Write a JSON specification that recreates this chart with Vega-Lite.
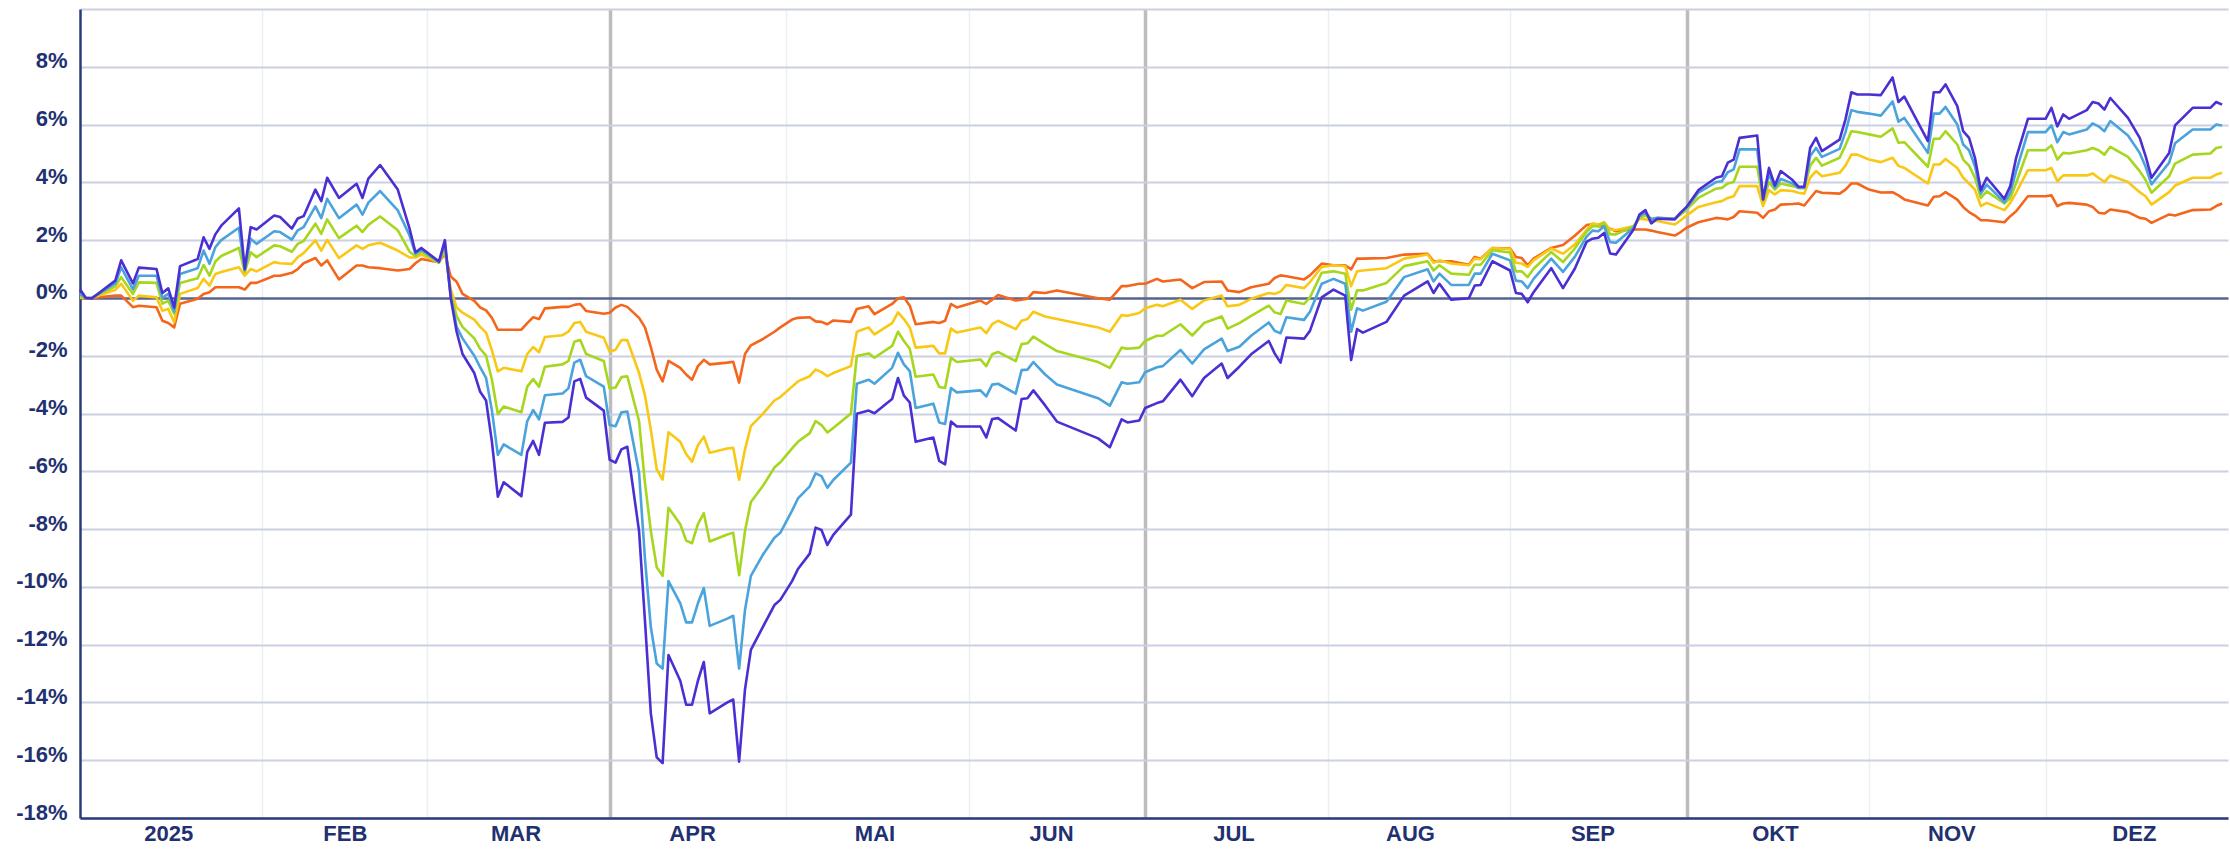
{
  "$schema": "https://vega.github.io/schema/vega-lite/v6.json",
  "width": 2148,
  "height": 809,
  "autosize": "none",
  "padding": {"left": 80, "top": 9, "right": 2, "bottom": 32},
  "background": "white",
  "config": {"view": {"stroke": null}},
  "data": {"values": [
    {"d":"2025-01-01","A":0.3,"B":0.15,"C":0.05,"D":0,"E":0},
    {"d":"2025-01-02","A":0,"B":0,"C":0,"D":0,"E":0},
    {"d":"2025-01-03","A":-0.02,"B":0,"C":0,"D":0,"E":0},
    {"d":"2025-01-07","A":0.6,"B":0.5,"C":0.4,"D":0.28,"E":0.08},
    {"d":"2025-01-08","A":1.3,"B":1.06,"C":0.72,"D":0.49,"E":0.08},
    {"d":"2025-01-10","A":0.5,"B":0.3,"C":0.14,"D":-0.1,"E":-0.32},
    {"d":"2025-01-11","A":1.05,"B":0.77,"C":0.54,"D":0.08,"E":-0.27},
    {"d":"2025-01-14","A":1.0,"B":0.77,"C":0.52,"D":0.02,"E":-0.32},
    {"d":"2025-01-15","A":0.17,"B":0.0,"C":-0.2,"D":-0.44,"E":-0.79},
    {"d":"2025-01-16","A":0.33,"B":0.14,"C":-0.1,"D":-0.38,"E":-0.87},
    {"d":"2025-01-17","A":-0.33,"B":-0.47,"C":-0.55,"D":-0.84,"E":-1.02},
    {"d":"2025-01-18","A":1.1,"B":0.83,"C":0.52,"D":0.14,"E":-0.2},
    {"d":"2025-01-21","A":1.35,"B":1.03,"C":0.68,"D":0.34,"E":-0.03},
    {"d":"2025-01-22","A":2.1,"B":1.64,"C":1.14,"D":0.66,"E":0.14},
    {"d":"2025-01-23","A":1.7,"B":1.18,"C":0.77,"D":0.43,"E":0.2},
    {"d":"2025-01-24","A":2.2,"B":1.76,"C":1.26,"D":0.83,"E":0.37},
    {"d":"2025-01-25","A":2.5,"B":2.0,"C":1.45,"D":0.9,"E":0.37},
    {"d":"2025-01-28","A":3.1,"B":2.43,"C":1.73,"D":1.06,"E":0.37},
    {"d":"2025-01-29","A":1.0,"B":0.95,"C":0.89,"D":0.77,"E":0.29},
    {"d":"2025-01-30","A":2.45,"B":2.05,"C":1.58,"D":1.0,"E":0.52},
    {"d":"2025-01-31","A":2.37,"B":1.87,"C":1.41,"D":0.92,"E":0.52},
    {"d":"2025-02-03","A":2.85,"B":2.31,"C":1.82,"D":1.24,"E":0.77},
    {"d":"2025-02-04","A":2.8,"B":2.28,"C":1.79,"D":1.2,"E":0.77},
    {"d":"2025-02-06","A":2.4,"B":2.02,"C":1.6,"D":1.18,"E":0.87},
    {"d":"2025-02-07","A":2.75,"B":2.34,"C":1.87,"D":1.41,"E":1.0},
    {"d":"2025-02-08","A":2.83,"B":2.45,"C":1.97,"D":1.55,"E":1.2},
    {"d":"2025-02-10","A":3.75,"B":3.17,"C":2.57,"D":1.99,"E":1.38},
    {"d":"2025-02-11","A":3.35,"B":2.76,"C":2.22,"D":1.64,"E":1.12},
    {"d":"2025-02-12","A":4.16,"B":3.43,"C":2.72,"D":2.01,"E":1.3},
    {"d":"2025-02-14","A":3.46,"B":2.76,"C":2.07,"D":1.38,"E":0.64},
    {"d":"2025-02-17","A":3.95,"B":3.23,"C":2.5,"D":1.82,"E":1.12},
    {"d":"2025-02-18","A":3.46,"B":2.88,"C":2.28,"D":1.7,"E":1.12},
    {"d":"2025-02-19","A":4.13,"B":3.3,"C":2.53,"D":1.82,"E":1.06},
    {"d":"2025-02-21","A":4.6,"B":3.7,"C":2.82,"D":1.91,"E":1.03},
    {"d":"2025-02-24","A":3.75,"B":3.03,"C":2.34,"D":1.64,"E":0.95},
    {"d":"2025-02-26","A":2.4,"B":2.16,"C":1.6,"D":1.4,"E":1.0},
    {"d":"2025-02-27","A":1.58,"B":1.53,"C":1.45,"D":1.4,"E":1.2},
    {"d":"2025-02-28","A":1.73,"B":1.68,"C":1.6,"D":1.5,"E":1.35},
    {"d":"2025-03-03","A":1.26,"B":1.24,"C":1.22,"D":1.22,"E":1.24},
    {"d":"2025-03-04","A":2.0,"B":1.87,"C":1.75,"D":1.65,"E":1.53},
    {"d":"2025-03-05","A":0.0,"B":0.05,"C":0.15,"D":0.3,"E":0.74},
    {"d":"2025-03-06","A":-1.17,"B":-1.0,"C":-0.63,"D":-0.33,"E":0.56},
    {"d":"2025-03-07","A":-1.94,"B":-1.4,"C":-1.0,"D":-0.51,"E":0.14},
    {"d":"2025-03-09","A":-2.6,"B":-2.0,"C":-1.4,"D":-0.75,"E":-0.1},
    {"d":"2025-03-10","A":-3.25,"B":-2.4,"C":-1.76,"D":-1.0,"E":-0.33},
    {"d":"2025-03-11","A":-3.55,"B":-2.77,"C":-2.0,"D":-1.2,"E":-0.43},
    {"d":"2025-03-12","A":-4.98,"B":-3.9,"C":-2.83,"D":-1.82,"E":-0.69},
    {"d":"2025-03-13","A":-6.88,"B":-5.43,"C":-4.02,"D":-2.54,"E":-1.1},
    {"d":"2025-03-14","A":-6.38,"B":-5.07,"C":-3.76,"D":-2.42,"E":-1.1},
    {"d":"2025-03-17","A":-6.86,"B":-5.43,"C":-3.96,"D":-2.54,"E":-1.1},
    {"d":"2025-03-18","A":-5.33,"B":-4.26,"C":-3.07,"D":-1.94,"E":-0.87},
    {"d":"2025-03-19","A":-4.95,"B":-3.88,"C":-2.81,"D":-1.7,"E":-0.67},
    {"d":"2025-03-20","A":-5.43,"B":-4.2,"C":-3.07,"D":-1.88,"E":-0.73},
    {"d":"2025-03-21","A":-4.32,"B":-3.37,"C":-2.38,"D":-1.35,"E":-0.36},
    {"d":"2025-03-24","A":-4.29,"B":-3.31,"C":-2.3,"D":-1.29,"E":-0.31},
    {"d":"2025-03-25","A":-4.14,"B":-3.13,"C":-2.18,"D":-1.17,"E":-0.31},
    {"d":"2025-03-26","A":-2.89,"B":-2.24,"C":-1.52,"D":-0.87,"E":-0.24},
    {"d":"2025-03-27","A":-2.8,"B":-2.14,"C":-1.46,"D":-0.83,"E":-0.21},
    {"d":"2025-03-28","A":-3.45,"B":-2.71,"C":-1.94,"D":-1.17,"E":-0.45},
    {"d":"2025-03-31","A":-3.9,"B":-3.07,"C":-2.18,"D":-1.38,"E":-0.55},
    {"d":"2025-04-01","A":-5.6,"B":-4.4,"C":-3.13,"D":-1.86,"E":-0.51},
    {"d":"2025-04-02","A":-5.7,"B":-4.44,"C":-3.1,"D":-1.79,"E":-0.33},
    {"d":"2025-04-03","A":-5.24,"B":-3.96,"C":-2.74,"D":-1.46,"E":-0.24},
    {"d":"2025-04-04","A":-5.15,"B":-3.93,"C":-2.71,"D":-1.46,"E":-0.31},
    {"d":"2025-04-06","A":-8.07,"B":-6.05,"C":-4.26,"D":-2.6,"E":-0.69},
    {"d":"2025-04-07","A":-11.17,"B":-9.02,"C":-6.4,"D":-3.37,"E":-1.02},
    {"d":"2025-04-08","A":-14.38,"B":-11.4,"C":-8.07,"D":-4.56,"E":-1.7},
    {"d":"2025-04-09","A":-15.9,"B":-12.65,"C":-9.32,"D":-5.93,"E":-2.48},
    {"d":"2025-04-10","A":-16.1,"B":-12.83,"C":-9.62,"D":-6.29,"E":-2.89},
    {"d":"2025-04-11","A":-12.36,"B":-9.8,"C":-7.26,"D":-4.65,"E":-2.18},
    {"d":"2025-04-13","A":-13.25,"B":-10.57,"C":-7.83,"D":-4.98,"E":-2.42},
    {"d":"2025-04-14","A":-14.08,"B":-11.23,"C":-8.4,"D":-5.4,"E":-2.65},
    {"d":"2025-04-15","A":-14.08,"B":-11.23,"C":-8.49,"D":-5.67,"E":-2.83},
    {"d":"2025-04-16","A":-13.25,"B":-10.57,"C":-7.83,"D":-5.1,"E":-2.36},
    {"d":"2025-04-17","A":-12.6,"B":-10.04,"C":-7.45,"D":-4.8,"E":-2.14},
    {"d":"2025-04-18","A":-14.38,"B":-11.35,"C":-8.43,"D":-5.36,"E":-2.3},
    {"d":"2025-04-21","A":-14.0,"B":-11.1,"C":-8.19,"D":-5.21,"E":-2.24},
    {"d":"2025-04-22","A":-13.9,"B":-11.0,"C":-8.13,"D":-5.19,"E":-2.21},
    {"d":"2025-04-23","A":-16.05,"B":-12.83,"C":-9.6,"D":-6.29,"E":-2.93},
    {"d":"2025-04-24","A":-13.55,"B":-10.8,"C":-8.07,"D":-5.24,"E":-1.94},
    {"d":"2025-04-25","A":-12.18,"B":-9.62,"C":-7.06,"D":-4.44,"E":-1.64},
    {"d":"2025-04-27","A":-11.4,"B":-8.9,"C":-6.52,"D":-4.02,"E":-1.43},
    {"d":"2025-04-29","A":-10.63,"B":-8.3,"C":-5.87,"D":-3.55,"E":-1.17},
    {"d":"2025-04-30","A":-10.45,"B":-8.13,"C":-5.69,"D":-3.43,"E":-1.02},
    {"d":"2025-05-02","A":-9.8,"B":-7.36,"C":-5.21,"D":-3.07,"E":-0.75},
    {"d":"2025-05-03","A":-9.38,"B":-6.94,"C":-4.98,"D":-2.89,"E":-0.69},
    {"d":"2025-05-05","A":-8.85,"B":-6.52,"C":-4.68,"D":-2.71,"E":-0.67},
    {"d":"2025-05-06","A":-7.95,"B":-6.07,"C":-4.26,"D":-2.48,"E":-0.81},
    {"d":"2025-05-07","A":-8.03,"B":-6.17,"C":-4.4,"D":-2.57,"E":-0.83},
    {"d":"2025-05-08","A":-8.55,"B":-6.57,"C":-4.66,"D":-2.71,"E":-0.91},
    {"d":"2025-05-09","A":-8.2,"B":-6.3,"C":-4.5,"D":-2.6,"E":-0.78},
    {"d":"2025-05-12","A":-7.5,"B":-5.7,"C":-4.0,"D":-2.36,"E":-0.83},
    {"d":"2025-05-13","A":-4.01,"B":-2.97,"C":-2.01,"D":-1.17,"E":-0.38},
    {"d":"2025-05-15","A":-3.9,"B":-2.83,"C":-1.92,"D":-1.02,"E":-0.29},
    {"d":"2025-05-16","A":-3.99,"B":-2.97,"C":-2.07,"D":-1.26,"E":-0.56},
    {"d":"2025-05-19","A":-3.5,"B":-2.42,"C":-1.66,"D":-0.87,"E":-0.21},
    {"d":"2025-05-20","A":-2.77,"B":-1.9,"C":-1.17,"D":-0.5,"E":-0.01},
    {"d":"2025-05-21","A":-3.38,"B":-2.3,"C":-1.49,"D":-0.73,"E":0.02},
    {"d":"2025-05-22","A":-3.62,"B":-2.53,"C":-1.76,"D":-1.02,"E":-0.27},
    {"d":"2025-05-23","A":-4.98,"B":-3.81,"C":-2.73,"D":-1.72,"E":-0.91},
    {"d":"2025-05-26","A":-4.83,"B":-3.66,"C":-2.65,"D":-1.66,"E":-0.83},
    {"d":"2025-05-27","A":-5.64,"B":-4.31,"C":-3.08,"D":-1.92,"E":-0.87},
    {"d":"2025-05-28","A":-5.76,"B":-4.36,"C":-3.12,"D":-1.92,"E":-0.79},
    {"d":"2025-05-29","A":-4.28,"B":-3.12,"C":-2.07,"D":-1.06,"E":-0.21},
    {"d":"2025-05-30","A":-4.45,"B":-3.27,"C":-2.22,"D":-1.2,"E":-0.33},
    {"d":"2025-06-03","A":-4.45,"B":-3.2,"C":-2.13,"D":-1.02,"E":-0.09},
    {"d":"2025-06-04","A":-4.83,"B":-3.41,"C":-2.36,"D":-1.22,"E":-0.21},
    {"d":"2025-06-05","A":-4.19,"B":-3.0,"C":-1.95,"D":-0.91,"E":-0.06},
    {"d":"2025-06-06","A":-4.16,"B":-2.97,"C":-1.87,"D":-0.79,"E":0.1},
    {"d":"2025-06-09","A":-4.59,"B":-3.31,"C":-2.19,"D":-1.08,"E":-0.09},
    {"d":"2025-06-10","A":-3.5,"B":-2.5,"C":-1.6,"D":-0.79,"E":-0.06},
    {"d":"2025-06-11","A":-3.47,"B":-2.48,"C":-1.57,"D":-0.73,"E":-0.03},
    {"d":"2025-06-12","A":-3.2,"B":-2.22,"C":-1.34,"D":-0.48,"E":0.2},
    {"d":"2025-06-14","A":-3.72,"B":-2.65,"C":-1.6,"D":-0.64,"E":0.17},
    {"d":"2025-06-16","A":-4.28,"B":-3.0,"C":-1.84,"D":-0.73,"E":0.26},
    {"d":"2025-06-23","A":-4.86,"B":-3.47,"C":-2.22,"D":-1.02,"E":-0.01},
    {"d":"2025-06-25","A":-5.17,"B":-3.73,"C":-2.42,"D":-1.17,"E":-0.06},
    {"d":"2025-06-27","A":-4.2,"B":-2.92,"C":-1.72,"D":-0.59,"E":0.41},
    {"d":"2025-06-28","A":-4.31,"B":-2.97,"C":-1.76,"D":-0.62,"E":0.41},
    {"d":"2025-06-30","A":-4.24,"B":-2.92,"C":-1.72,"D":-0.52,"E":0.49},
    {"d":"2025-07-01","A":-3.81,"B":-2.57,"C":-1.49,"D":-0.36,"E":0.49},
    {"d":"2025-07-03","A":-3.64,"B":-2.4,"C":-1.31,"D":-0.24,"E":0.66},
    {"d":"2025-07-04","A":-3.58,"B":-2.36,"C":-1.31,"D":-0.29,"E":0.57},
    {"d":"2025-07-07","A":-2.83,"B":-1.8,"C":-0.91,"D":-0.06,"E":0.64},
    {"d":"2025-07-09","A":-3.4,"B":-2.27,"C":-1.3,"D":-0.38,"E":0.34},
    {"d":"2025-07-11","A":-2.77,"B":-1.78,"C":-0.87,"D":-0.09,"E":0.55},
    {"d":"2025-07-14","A":-2.27,"B":-1.41,"C":-0.64,"D":0.08,"E":0.57},
    {"d":"2025-07-15","A":-2.77,"B":-1.84,"C":-1.06,"D":-0.29,"E":0.26},
    {"d":"2025-07-17","A":-2.38,"B":-1.69,"C":-0.87,"D":-0.24,"E":0.2},
    {"d":"2025-07-19","A":-1.95,"B":-1.31,"C":-0.62,"D":-0.03,"E":0.37},
    {"d":"2025-07-22","A":-1.49,"B":-0.85,"C":-0.27,"D":0.17,"E":0.49},
    {"d":"2025-07-23","A":-1.92,"B":-1.14,"C":-0.5,"D":0.14,"E":0.69},
    {"d":"2025-07-24","A":-2.24,"B":-1.22,"C":-0.56,"D":0.22,"E":0.78},
    {"d":"2025-07-25","A":-1.37,"B":-0.67,"C":-0.09,"D":0.45,"E":0.75},
    {"d":"2025-07-28","A":-1.41,"B":-0.76,"C":-0.21,"D":0.34,"E":0.64},
    {"d":"2025-07-29","A":-1.14,"B":-0.48,"C":0.02,"D":0.55,"E":0.78},
    {"d":"2025-07-31","A":0.02,"B":0.49,"C":0.87,"D":1.07,"E":1.19},
    {"d":"2025-08-02","A":0.29,"B":0.66,"C":0.92,"D":1.13,"E":1.13},
    {"d":"2025-08-04","A":0.08,"B":0.49,"C":0.84,"D":1.1,"E":1.13},
    {"d":"2025-08-05","A":-2.15,"B":-1.17,"C":-0.41,"D":0.41,"E":0.99},
    {"d":"2025-08-06","A":-1.08,"B":-0.36,"C":0.26,"D":0.92,"E":1.36},
    {"d":"2025-08-07","A":-1.2,"B":-0.44,"C":0.26,"D":0.95,"E":1.36},
    {"d":"2025-08-11","A":-0.83,"B":-0.13,"C":0.52,"D":1.03,"E":1.38},
    {"d":"2025-08-14","A":0.08,"B":0.72,"C":1.1,"D":1.36,"E":1.5},
    {"d":"2025-08-18","A":0.57,"B":0.99,"C":1.27,"D":1.5,"E":1.53},
    {"d":"2025-08-19","A":0.17,"B":0.57,"C":0.95,"D":1.22,"E":1.27},
    {"d":"2025-08-20","A":0.49,"B":0.84,"C":1.13,"D":1.3,"E":1.27},
    {"d":"2025-08-22","A":-0.06,"B":0.45,"C":0.84,"D":1.19,"E":1.27},
    {"d":"2025-08-25","A":-0.01,"B":0.45,"C":0.8,"D":1.13,"E":1.15},
    {"d":"2025-08-26","A":0.43,"B":0.84,"C":1.15,"D":1.36,"E":1.42},
    {"d":"2025-08-27","A":0.45,"B":0.84,"C":1.15,"D":1.34,"E":1.36},
    {"d":"2025-08-29","A":1.27,"B":1.53,"C":1.65,"D":1.73,"E":1.73},
    {"d":"2025-09-01","A":0.95,"B":1.3,"C":1.57,"D":1.69,"E":1.71},
    {"d":"2025-09-02","A":0.17,"B":0.6,"C":0.92,"D":1.22,"E":1.42},
    {"d":"2025-09-03","A":0.14,"B":0.57,"C":0.92,"D":1.19,"E":1.38},
    {"d":"2025-09-04","A":-0.15,"B":0.34,"C":0.72,"D":1.07,"E":1.13},
    {"d":"2025-09-05","A":0.2,"B":0.66,"C":1.01,"D":1.3,"E":1.36},
    {"d":"2025-09-08","A":1.03,"B":1.36,"C":1.59,"D":1.71,"E":1.73},
    {"d":"2025-09-10","A":0.34,"B":0.9,"C":1.24,"D":1.53,"E":1.83},
    {"d":"2025-09-12","A":1.01,"B":1.42,"C":1.71,"D":1.85,"E":2.15},
    {"d":"2025-09-14","A":1.94,"B":2.12,"C":2.29,"D":2.35,"E":2.52},
    {"d":"2025-09-15","A":2.05,"B":2.33,"C":2.48,"D":2.58,"E":2.55},
    {"d":"2025-09-16","A":2.08,"B":2.31,"C":2.48,"D":2.54,"E":2.48},
    {"d":"2025-09-17","A":2.25,"B":2.48,"C":2.6,"D":2.62,"E":2.48},
    {"d":"2025-09-18","A":1.54,"B":1.93,"C":2.2,"D":2.37,"E":2.4},
    {"d":"2025-09-19","A":1.5,"B":1.91,"C":2.2,"D":2.35,"E":2.31},
    {"d":"2025-09-22","A":2.37,"B":2.43,"C":2.48,"D":2.48,"E":2.37},
    {"d":"2025-09-23","A":2.89,"B":2.83,"C":2.77,"D":2.74,"E":2.37},
    {"d":"2025-09-24","A":3.04,"B":2.95,"C":2.85,"D":2.72,"E":2.37},
    {"d":"2025-09-25","A":2.58,"B":2.72,"C":2.74,"D":2.66,"E":2.33},
    {"d":"2025-09-26","A":2.74,"B":2.77,"C":2.77,"D":2.66,"E":2.28},
    {"d":"2025-09-29","A":2.72,"B":2.74,"C":2.74,"D":2.54,"E":2.16},
    {"d":"2025-09-30","A":2.95,"B":2.95,"C":2.89,"D":2.69,"E":2.28},
    {"d":"2025-10-01","A":3.15,"B":3.12,"C":3.06,"D":2.85,"E":2.43},
    {"d":"2025-10-03","A":3.73,"B":3.64,"C":3.46,"D":3.15,"E":2.62},
    {"d":"2025-10-06","A":4.16,"B":4.01,"C":3.78,"D":3.31,"E":2.77},
    {"d":"2025-10-07","A":4.21,"B":4.04,"C":3.81,"D":3.35,"E":2.75},
    {"d":"2025-10-08","A":4.68,"B":4.35,"C":3.96,"D":3.46,"E":2.72},
    {"d":"2025-10-09","A":4.79,"B":4.45,"C":4.01,"D":3.52,"E":2.8},
    {"d":"2025-10-10","A":5.54,"B":5.14,"C":4.54,"D":3.87,"E":3.0},
    {"d":"2025-10-13","A":5.62,"B":5.14,"C":4.54,"D":3.87,"E":2.95},
    {"d":"2025-10-14","A":3.41,"B":3.43,"C":3.35,"D":3.18,"E":2.77},
    {"d":"2025-10-15","A":4.5,"B":4.27,"C":4.01,"D":3.73,"E":3.0},
    {"d":"2025-10-16","A":3.89,"B":3.81,"C":3.75,"D":3.58,"E":3.06},
    {"d":"2025-10-17","A":4.39,"B":4.12,"C":3.96,"D":3.73,"E":3.23},
    {"d":"2025-10-19","A":4.08,"B":3.96,"C":3.87,"D":3.7,"E":3.25},
    {"d":"2025-10-20","A":3.85,"B":3.81,"C":3.81,"D":3.64,"E":3.27},
    {"d":"2025-10-21","A":3.85,"B":3.81,"C":3.81,"D":3.61,"E":3.2},
    {"d":"2025-10-22","A":5.19,"B":4.91,"C":4.58,"D":4.16,"E":3.45},
    {"d":"2025-10-23","A":5.54,"B":5.19,"C":4.85,"D":4.39,"E":3.7},
    {"d":"2025-10-24","A":5.08,"B":4.88,"C":4.58,"D":4.21,"E":3.64},
    {"d":"2025-10-27","A":5.48,"B":5.16,"C":4.85,"D":4.33,"E":3.61},
    {"d":"2025-10-28","A":6.18,"B":5.74,"C":5.28,"D":4.58,"E":3.75},
    {"d":"2025-10-29","A":7.12,"B":6.5,"C":5.77,"D":4.96,"E":3.96},
    {"d":"2025-10-30","A":7.04,"B":6.44,"C":5.74,"D":4.96,"E":3.96},
    {"d":"2025-11-01","A":7.04,"B":6.38,"C":5.66,"D":4.79,"E":3.75},
    {"d":"2025-11-03","A":7.02,"B":6.31,"C":5.58,"D":4.7,"E":3.65},
    {"d":"2025-11-05","A":7.63,"B":6.8,"C":5.87,"D":4.85,"E":3.66},
    {"d":"2025-11-06","A":6.78,"B":6.1,"C":5.37,"D":4.57,"E":3.55},
    {"d":"2025-11-07","A":6.97,"B":6.23,"C":5.39,"D":4.5,"E":3.41},
    {"d":"2025-11-11","A":5.43,"B":5.02,"C":4.54,"D":3.96,"E":3.2},
    {"d":"2025-11-12","A":7.12,"B":6.38,"C":5.51,"D":4.62,"E":3.5},
    {"d":"2025-11-13","A":7.12,"B":6.38,"C":5.51,"D":4.62,"E":3.52},
    {"d":"2025-11-14","A":7.39,"B":6.61,"C":5.77,"D":4.81,"E":3.66},
    {"d":"2025-11-16","A":6.64,"B":6.0,"C":5.31,"D":4.5,"E":3.4},
    {"d":"2025-11-17","A":5.77,"B":5.31,"C":4.79,"D":4.16,"E":3.15},
    {"d":"2025-11-18","A":5.54,"B":5.11,"C":4.58,"D":3.96,"E":2.97},
    {"d":"2025-11-19","A":4.85,"B":4.56,"C":4.16,"D":3.75,"E":2.85},
    {"d":"2025-11-20","A":3.73,"B":3.61,"C":3.46,"D":3.18,"E":2.69},
    {"d":"2025-11-21","A":4.16,"B":3.92,"C":3.69,"D":3.29,"E":2.69},
    {"d":"2025-11-24","A":3.43,"B":3.31,"C":3.27,"D":3.04,"E":2.62},
    {"d":"2025-11-25","A":3.87,"B":3.64,"C":3.46,"D":3.29,"E":2.83},
    {"d":"2025-11-26","A":4.85,"B":4.39,"C":3.98,"D":3.64,"E":3.0},
    {"d":"2025-11-28","A":6.2,"B":5.74,"C":5.11,"D":4.42,"E":3.52},
    {"d":"2025-12-01","A":6.2,"B":5.74,"C":5.11,"D":4.42,"E":3.52},
    {"d":"2025-12-02","A":6.58,"B":5.97,"C":5.28,"D":4.5,"E":3.55},
    {"d":"2025-12-03","A":5.94,"B":5.39,"C":4.79,"D":4.04,"E":3.18},
    {"d":"2025-12-04","A":6.35,"B":5.74,"C":5.02,"D":4.24,"E":3.27},
    {"d":"2025-12-05","A":6.2,"B":5.66,"C":5.0,"D":4.24,"E":3.29},
    {"d":"2025-12-08","A":6.5,"B":5.83,"C":5.11,"D":4.24,"E":3.23},
    {"d":"2025-12-09","A":6.78,"B":6.04,"C":5.19,"D":4.31,"E":3.15},
    {"d":"2025-12-10","A":6.73,"B":5.94,"C":5.11,"D":4.16,"E":2.95},
    {"d":"2025-12-11","A":6.52,"B":5.77,"C":4.96,"D":4.01,"E":2.92},
    {"d":"2025-12-12","A":6.92,"B":6.12,"C":5.23,"D":4.24,"E":3.06},
    {"d":"2025-12-15","A":6.23,"B":5.62,"C":4.88,"D":4.01,"E":2.97},
    {"d":"2025-12-17","A":5.54,"B":5.02,"C":4.39,"D":3.66,"E":2.77},
    {"d":"2025-12-18","A":4.91,"B":4.54,"C":4.08,"D":3.52,"E":2.74},
    {"d":"2025-12-19","A":4.16,"B":3.93,"C":3.64,"D":3.23,"E":2.6},
    {"d":"2025-12-22","A":5.02,"B":4.68,"C":4.21,"D":3.66,"E":2.89},
    {"d":"2025-12-23","A":5.97,"B":5.35,"C":4.65,"D":3.89,"E":2.85},
    {"d":"2025-12-26","A":6.58,"B":5.83,"C":4.96,"D":4.16,"E":3.04},
    {"d":"2025-12-29","A":6.58,"B":5.83,"C":5.0,"D":4.16,"E":3.06},
    {"d":"2025-12-30","A":6.78,"B":6.0,"C":5.19,"D":4.27,"E":3.18},
    {"d":"2025-12-31","A":6.69,"B":5.97,"C":5.23,"D":4.33,"E":3.27}
  ]},
  "transform": [{"fold": ["E", "D", "C", "B", "A"], "as": ["s", "v"]}],
  "layer": [
    {
      "mark": {"type": "line", "opacity": 0},
      "encoding": {
        "x": {
          "field": "d", "type": "temporal",
          "scale": {"type": "utc", "domain": [{"year": 2025, "month": 1, "date": 1, "utc": true}, {"year": 2026, "month": 1, "date": 1, "utc": true}]},
          "axis": {
            "orient": "bottom",
            "title": null,
            "labels": false,
            "ticks": false,
            "domain": false,
            "grid": true,
            "values": [
              {"year": 2025, "month": 2, "date": 1, "utc": true},
              {"year": 2025, "month": 3, "date": 1, "utc": true},
              {"year": 2025, "month": 4, "date": 1, "utc": true},
              {"year": 2025, "month": 5, "date": 1, "utc": true},
              {"year": 2025, "month": 6, "date": 1, "utc": true},
              {"year": 2025, "month": 7, "date": 1, "utc": true},
              {"year": 2025, "month": 8, "date": 1, "utc": true},
              {"year": 2025, "month": 9, "date": 1, "utc": true},
              {"year": 2025, "month": 10, "date": 1, "utc": true},
              {"year": 2025, "month": 11, "date": 1, "utc": true},
              {"year": 2025, "month": 12, "date": 1, "utc": true}
            ],
            "gridColor": {"condition": {"test": "utcmonth(datum.value) % 3 == 0", "value": "#bcbcbc"}, "value": "#eceef5"},
            "gridWidth": {"condition": {"test": "utcmonth(datum.value) % 3 == 0", "value": 3.5}, "value": 1.5}
          }
        },
        "y": {
          "field": "v", "type": "quantitative",
          "scale": {"domain": [-18, 10], "nice": false, "zero": false},
          "axis": {
            "title": null,
            "values": [-18, -16, -14, -12, -10, -8, -6, -4, -2, 0, 2, 4, 6, 8, 10],
            "labelExpr": "datum.value == 10 ? '' : datum.value + '%'",
            "grid": true,
            "gridColor": {"condition": {"test": "datum.value == 0", "value": "#56638f"}, "value": "#cbd0e2"},
            "gridWidth": {"condition": {"test": "datum.value == 0", "value": 2.5}, "value": 2},
            "ticks": false,
            "tickSize": 0,
            "domain": true,
            "domainColor": "#2b3b7a",
            "domainWidth": 2.5,
            "labelPadding": 13,
            "labelOffset": -6,
            "labelFont": "Liberation Sans",
            "labelFontSize": 22,
            "labelFontWeight": "bold",
            "labelColor": "#1f3170",
            "labelOverlap": false,
            "labelBound": false,
            "labelFlush": false
          }
        },
        "detail": {"field": "s"}
      }
    },
    {
      "mark": {"type": "line", "strokeWidth": 2.6, "strokeJoin": "round"},
      "encoding": {
        "x": {
          "field": "d", "type": "temporal",
          "axis": {
            "orient": "bottom",
            "title": null,
            "grid": false,
            "ticks": false,
            "tickSize": 0,
            "domain": true,
            "domainColor": "#2b3b7a",
            "domainWidth": 2.5,
            "labelPadding": 5,
            "labelBaseline": "top",
            "labelAlign": "center",
            "labelFont": "Liberation Sans",
            "labelFontSize": 22,
            "labelFontWeight": "bold",
            "labelColor": "#1f3170",
            "labelOverlap": false,
            "labelBound": false,
            "labelFlush": false,
            "values": [
              {"year": 2025, "month": 1, "date": 16, "utc": true},
              {"year": 2025, "month": 2, "date": 15, "utc": true},
              {"year": 2025, "month": 3, "date": 16, "utc": true},
              {"year": 2025, "month": 4, "date": 15, "utc": true},
              {"year": 2025, "month": 5, "date": 16, "utc": true},
              {"year": 2025, "month": 6, "date": 15, "utc": true},
              {"year": 2025, "month": 7, "date": 16, "utc": true},
              {"year": 2025, "month": 8, "date": 15, "utc": true},
              {"year": 2025, "month": 9, "date": 15, "utc": true},
              {"year": 2025, "month": 10, "date": 16, "utc": true},
              {"year": 2025, "month": 11, "date": 15, "utc": true},
              {"year": 2025, "month": 12, "date": 16, "utc": true}
            ],
            "labelExpr": "utcmonth(datum.value) == 0 ? '2025' : ['JAN','FEB','MAR','APR','MAI','JUN','JUL','AUG','SEP','OKT','NOV','DEZ'][utcmonth(datum.value)]"
          }
        },
        "y": {"field": "v", "type": "quantitative"},
        "color": {
          "field": "s", "type": "nominal",
          "scale": {"domain": ["A", "B", "C", "D", "E"], "range": ["#4a2fd2", "#4aa3dc", "#a6d61e", "#f8c814", "#f4661c"]},
          "legend": null
        }
      }
    }
  ],
  "resolve": {"axis": {"x": "independent"}}
}
